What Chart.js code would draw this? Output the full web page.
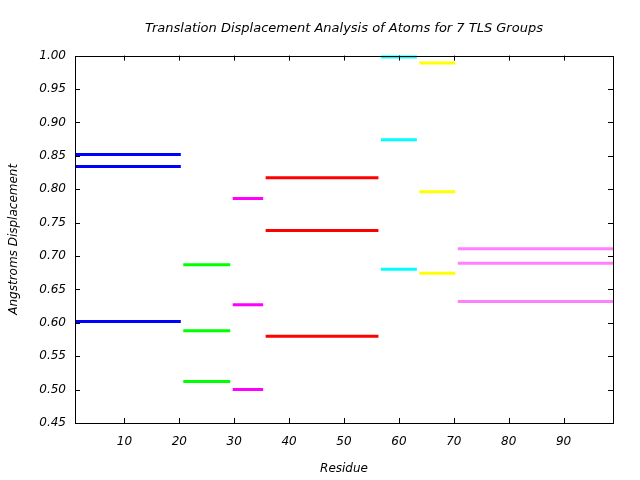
<!DOCTYPE html>
<html>
<head>
<meta charset="utf-8">
<script src="https://cdn.jsdelivr.net/npm/chart.js@4/dist/chart.umd.min.js"></script>
<style>
html,body{margin:0;padding:0;background:#fff;}
#wrap{width:640px;height:480px;}
</style>
</head>
<body>
<div id="wrap"><canvas id="c" width="640" height="480"></canvas></div>
<script>
// TLS groups: residue ranges
const groupNames = ['Group 1','Group 2','Group 3','Group 4','Group 5','Group 6','Group 7'];
const groupStart = [1, 21, 30, 36, 57, 64, 71];
const groupEnd   = [20, 29, 35, 56, 63, 70, 99];
const groupColors = ['#0000ff','#00ff00','#ff00ff','#ff0000','#00ffff','#ffff00','#ff80ff'];
// Three principal translation displacements per group (Angstroms)
const group1Values = [0.852, 0.834, 0.602];
const group2Values = [0.687, 0.588, 0.512];
const group3Values = [0.786, 0.627, 0.500];
const group4Values = [0.817, 0.738, 0.580];
const group5Values = [0.998, 0.874, 0.680];
const group6Values = [0.989, 0.796, 0.674];
const group7Values = [0.711, 0.689, 0.632];
const xTickValues = [10, 20, 30, 40, 50, 60, 70, 80, 90];
const yTickValues = [0.45, 0.50, 0.55, 0.60, 0.65, 0.70, 0.75, 0.80, 0.85, 0.90, 0.95, 1.00];

const allValues = [group1Values, group2Values, group3Values, group4Values, group5Values, group6Values, group7Values];
const datasets = [];
allValues.forEach((vals, g) => {
  vals.forEach((v, k) => {
    datasets.push({
      label: groupNames[g] + ' t' + (k + 1),
      data: [{x: groupStart[g], y: v}, {x: groupEnd[g], y: v}],
      borderColor: groupColors[g],
      backgroundColor: groupColors[g],
      borderWidth: 3,
      borderCapStyle: 'square',
      pointRadius: 0,
      showLine: true,
      fill: false,
      tension: 0,
      clip: {left: 0, right: 1, top: 3, bottom: 3}
    });
  });
});

const font = {family: 'DejaVu Sans', size: 12, style: 'italic', weight: 'normal'};
const titleFont = {family: 'DejaVu Sans', size: 13, style: 'italic', weight: 'normal'};

const frame = {
  id: 'frame',
  afterDatasetsDraw(chart) {
    const ctx = chart.ctx, a = chart.chartArea;
    const xs = chart.scales.x, ys = chart.scales.y;
    ctx.save();
    ctx.strokeStyle = '#000';
    ctx.lineWidth = 1;
    ctx.beginPath();
    const tl = 5;
    xTickValues.forEach(v => {
      const px = Math.round(xs.getPixelForValue(v)) + 0.5;
      ctx.moveTo(px, a.bottom); ctx.lineTo(px, a.bottom - tl);
      ctx.moveTo(px, a.top); ctx.lineTo(px, a.top + tl);
    });
    yTickValues.forEach(v => {
      const py = Math.round(ys.getPixelForValue(v)) + 0.5;
      ctx.moveTo(a.left, py); ctx.lineTo(a.left + tl, py);
      ctx.moveTo(a.right, py); ctx.lineTo(a.right - tl, py);
    });
    ctx.stroke();
    ctx.strokeRect(Math.round(a.left) + 0.5, Math.round(a.top) + 0.5, Math.round(a.right - a.left), Math.round(a.bottom - a.top));
    ctx.restore();
  }
};

new Chart(document.getElementById('c'), {
  type: 'scatter',
  data: {datasets},
  options: {
    responsive: false,
    animation: false,
    layout: {padding: {left: 0, right: 27, top: 0, bottom: 0}},
    plugins: {
      legend: {display: false},
      tooltip: {enabled: false},
      title: {
        display: true,
        fullSize: false,
        text: 'Translation Displacement Analysis of Atoms for 7 TLS Groups',
        color: '#000',
        font: titleFont,
        padding: {top: 21, bottom: 19}
      }
    },
    scales: {
      x: {
        type: 'linear',
        min: 1, max: 99,
        afterBuildTicks: s => { s.ticks = xTickValues.map(v => ({value: v})); },
        grid: {display: false, drawTicks: false},
        border: {display: false},
        ticks: {color: '#000', font: font, padding: 12, maxRotation: 0, autoSkip: false},
        title: {display: true, text: 'Residue', color: '#000', font: font, padding: {top: 5, bottom: 4}},
        afterFit: s => { s.height = 57; }
      },
      y: {
        type: 'linear',
        min: 0.45, max: 1.0,
        afterBuildTicks: s => { s.ticks = yTickValues.map(v => ({value: v})); },
        grid: {display: false, drawTicks: false},
        border: {display: false},
        ticks: {color: '#000', font: font, padding: 9, autoSkip: false, callback: v => Number(v).toFixed(2)},
        title: {display: true, text: 'Angstroms Displacement', color: '#000', font: font, padding: {top: 7, bottom: 8}},
        afterFit: s => { s.width = 75; }
      }
    }
  },
  plugins: [frame]
});
</script>
</body>
</html>
